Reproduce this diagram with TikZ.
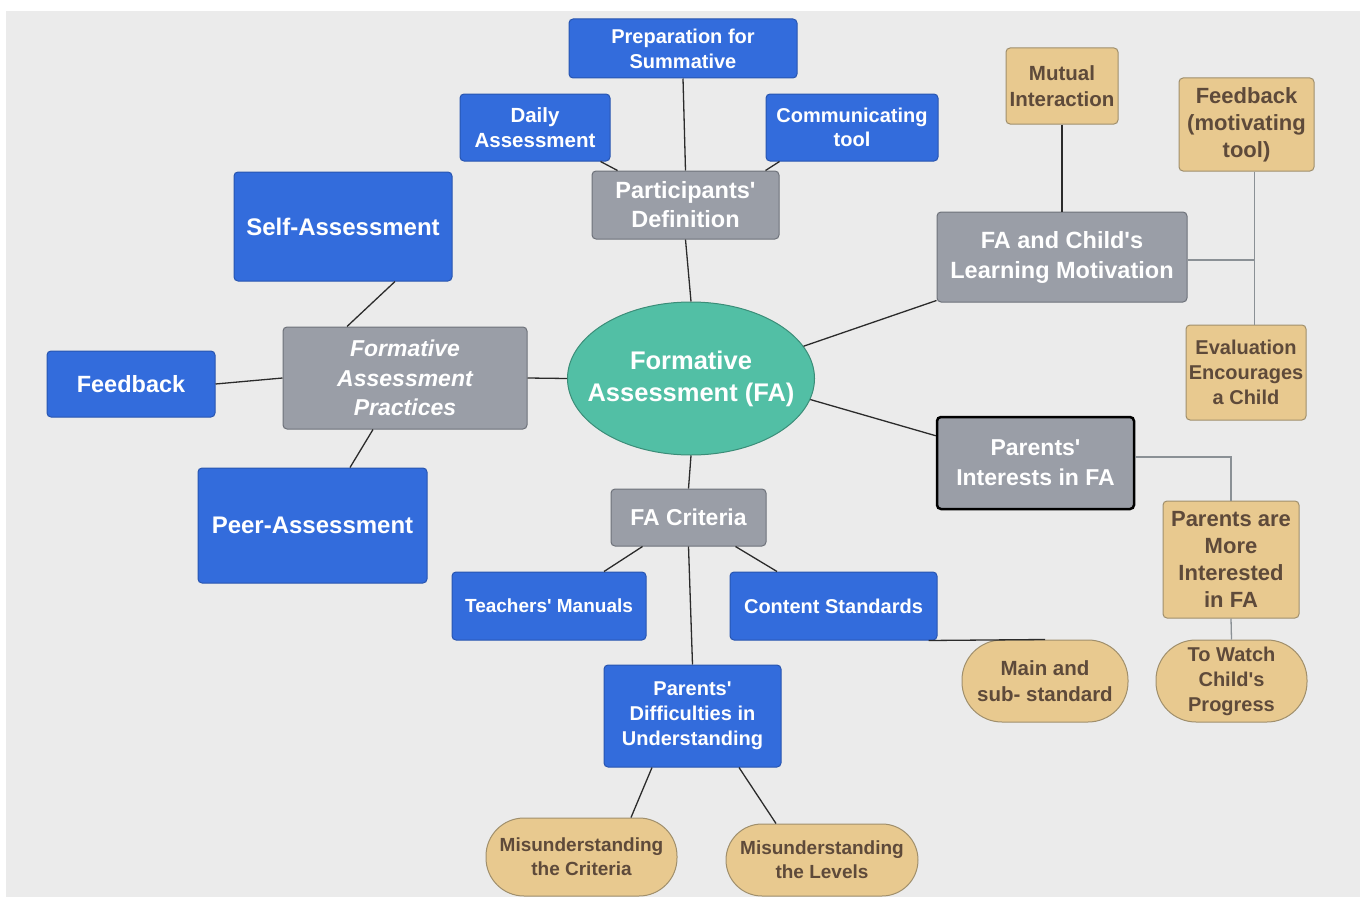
\documentclass[tikz,border=0pt]{standalone}
\usepackage{fontspec}
\setmainfont{Liberation Sans}[Ligatures=TeXOff]
\usepackage{xcolor}
\usetikzlibrary{shapes.geometric, positioning, calc}
\definecolor{bgpage}{HTML}{EBEBEB}
\definecolor{fablue}{HTML}{336CDC}
\definecolor{fabluedark}{HTML}{2855B0}
\definecolor{fagray}{HTML}{9A9EA7}
\definecolor{fagraydark}{HTML}{6E727A}
\definecolor{fatan}{HTML}{E8C98F}
\definecolor{fatandark}{HTML}{A08F6C}
\definecolor{fabrown}{HTML}{5E4A3A}
\definecolor{fateal}{HTML}{52BFA5}
\definecolor{fatealdark}{HTML}{3B8D78}
\definecolor{faline}{HTML}{2B2B2B}
\definecolor{falight}{HTML}{8A9095}
\newcommand{\fsz}[2]{\fontsize{#1}{#2}\selectfont\bfseries}
\tikzstyle{bluebox} = [rectangle, rounded corners=4pt, inner sep=0pt, align=center, draw=fabluedark, fill=fablue, text=white, line width=1pt]
\tikzstyle{graybox} = [rectangle, rounded corners=4pt, inner sep=0pt, align=center, draw=fagraydark, fill=fagray, text=white, line width=1pt]
\tikzstyle{tanbox} = [rectangle, rounded corners=4pt, inner sep=0pt, align=center, draw=fatandark, fill=fatan, text=fabrown, line width=1pt]
\tikzstyle{tanpill} = [tanbox, rounded corners=36pt]
\tikzstyle{centre} = [ellipse, inner xsep=-21pt, inner ysep=0pt, align=center, draw=fatealdark, fill=fateal, text=white, line width=1pt]
\tikzstyle{link} = [draw=faline, line width=1.3pt]
\tikzstyle{thinlink} = [draw=falight, line width=1.3pt]

\begin{document}
\begin{tikzpicture}[x=1pt, y=-1pt]
    \fill[white] (0,0) rectangle (1360,899);
    \useasboundingbox (0,0) rectangle (1360,899);
    \fill[bgpage] (6,11) rectangle (1360,897);

    \node (fa) [centre, minimum width=247pt, minimum height=153pt, font=\fsz{25.5}{32}] at (691,378.5) {Formative\\Assessment (FA)};

    % upper branch
    \node (partdef) [graybox, minimum width=187pt, minimum height=68pt, font=\fsz{23.5}{29}] at (685.5,205) {Participants'\\Definition};
    \node (prep) [bluebox, minimum width=228pt, minimum height=59pt, font=\fsz{20}{25}] at (683,48.5) {Preparation for\\Summative};
    \node (daily) [bluebox, minimum width=150pt, minimum height=67pt, font=\fsz{20.5}{25}] at (535,127.5) {Daily\\Assessment};
    \node (comm) [bluebox, minimum width=172pt, minimum height=67pt, font=\fsz{20}{24}] at (852,127.5) {Communicating\\tool};

    % left branch
    \node (practices) [graybox, minimum width=244pt, minimum height=102pt, font=\fsz{23}{29.5}\itshape] at (405,378) {Formative\\Assessment\\Practices};
    \node (self) [bluebox, minimum width=218pt, minimum height=109pt, font=\fsz{24}{29}] at (343,226.5) {Self-Assessment};
    \node (feedback) [bluebox, minimum width=168pt, minimum height=66pt, font=\fsz{23.5}{29}] at (131,384) {Feedback};
    \node (peer) [bluebox, minimum width=229pt, minimum height=115pt, font=\fsz{24}{29}] at (312.5,525.5) {Peer-Assessment};

    % right branches
    \node (motiv) [graybox, minimum width=250pt, minimum height=90pt, font=\fsz{23.5}{30}] at (1062,257) {FA and Child's\\Learning Motivation};
    \node (mutual) [tanbox, minimum width=112pt, minimum height=76pt, font=\fsz{20.5}{26}] at (1062,86) {Mutual\\Interaction};
    \node (fbmot) [tanbox, minimum width=135pt, minimum height=93pt, font=\fsz{22}{27}] at (1246.5,124.5) {Feedback\\(motivating\\tool)};
    \node (evalenc) [tanbox, minimum width=120pt, minimum height=95pt, font=\fsz{20}{25}] at (1246,372.5) {Evaluation\\Encourages\\a Child};
    \node (interests) [graybox, draw=black, line width=2.5pt, minimum width=197pt, minimum height=92pt, font=\fsz{23}{30}] at (1035.5,463) {Parents'\\Interests in FA};
    \node (moreint) [tanbox, minimum width=136pt, minimum height=117pt, font=\fsz{22}{27}] at (1231,559.5) {Parents are\\More\\Interested\\in FA};
    \node (watch) [tanpill, rounded corners=40pt, minimum width=151pt, minimum height=82pt, font=\fsz{20}{25}] at (1231.5,681) {To Watch\\Child's\\Progress};

    % lower branch
    \node (criteria) [graybox, minimum width=155pt, minimum height=57pt, font=\fsz{23}{29}] at (688.5,517.5) {FA Criteria};
    \node (manuals) [bluebox, minimum width=194pt, minimum height=68pt, font=\fsz{19}{24}] at (549,606) {Teachers' Manuals};
    \node (content) [bluebox, minimum width=207pt, minimum height=68pt, font=\fsz{20}{25}] at (833.5,606) {Content Standards};
    \node (mainsub) [tanpill, rounded corners=40pt, minimum width=166pt, minimum height=82pt, font=\fsz{20.5}{26}] at (1045,681) {Main and\\sub- standard};
    \node (difficult) [bluebox, minimum width=177pt, minimum height=102pt, font=\fsz{20}{25}] at (692.5,716) {Parents'\\Difficulties in\\Understanding};
    \node (miscrit) [tanpill, rounded corners=38pt, minimum width=191pt, minimum height=78pt, font=\fsz{19}{24}] at (581.5,857) {Misunderstanding\\the Criteria};
    \node (mislev) [tanpill, minimum width=192pt, minimum height=72pt, font=\fsz{19}{24}] at (822,860) {Misunderstanding\\the Levels};

    \draw [link] (prep.south) -- (partdef.north);
    \draw [link] ([xshift=-10pt]daily.south east) -- ([xshift=26pt]partdef.north west);
    \draw [link] ([xshift=14pt]comm.south west) -- ([xshift=-14pt]partdef.north east);
    \draw [link] (partdef.south) -- (fa.north);

    \draw [link] ([xshift=52pt]self.south) -- ([xshift=-58pt]practices.north);
    \draw [link] (feedback.east) -- (practices.west);
    \draw [link] (practices.east) -- (fa.west);
    \draw [link] ([xshift=-32pt]practices.south) -- ([xshift=37.5pt]peer.north);

    \draw [link] (fa.16) -- ([yshift=2pt]motiv.south west);
    \draw [link] (mutual.south) -- (motiv.north);
    % bracket to the two motivation notes
    \coordinate (fbfoot) at ([xshift=8pt]fbmot.south);
    \draw [thinlink] ([yshift=-3pt]motiv.east) -| (fbfoot);
    \draw [thinlink] (fbfoot) -- (fbfoot |- evalenc.north);

    \draw [link] (fa.-10) -- ([yshift=-20pt]interests.north west);
    \draw [thinlink] ([yshift=6pt]interests.east) -| (moreint.north);
    \draw [thinlink] (moreint.south) -- (watch.north);

    \draw [link] (fa.south) -- (criteria.north);
    \draw [link] ([xshift=32pt]criteria.south west) -- ([xshift=55pt]manuals.north);
    \draw [link] ([xshift=-31pt]criteria.south east) -- ([xshift=-56.5pt]content.north);
    \draw [link] (criteria.south) -- (difficult.north);
    \draw [link] ([xshift=-9pt]content.south east) -- (mainsub.north);
    \draw [link] ([xshift=-40.5pt]difficult.south) -- ([xshift=49.5pt]miscrit.north);
    \draw [link] ([xshift=46.5pt]difficult.south) -- ([xshift=-46pt]mislev.north);
  \end{tikzpicture}
\end{document}
